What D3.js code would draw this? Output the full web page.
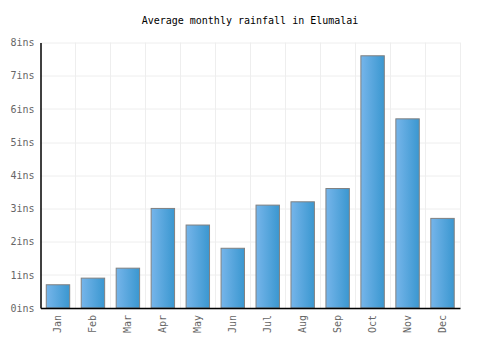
<!DOCTYPE html>
<html>
<head>
<meta charset="utf-8">
<title>Average monthly rainfall in Elumalai</title>
<script src="https://d3js.org/d3.v7.min.js"></script>
<style>
body { margin: 0; background: #fff; }
text { font-family: "DejaVu Sans Mono", monospace; }
</style>
</head>
<body>
<script>
var months = ["Jan","Feb","Mar","Apr","May","Jun","Jul","Aug","Sep","Oct","Nov","Dec"];
var rainfall = [0.7, 0.9, 1.2, 3.0, 2.5, 1.8, 3.1, 3.2, 3.6, 7.6, 5.7, 2.7];
var yTicks = [0, 1, 2, 3, 4, 5, 6, 7, 8];

var margin = {top: 42.5, right: 40, bottom: 42, left: 40.5};
var width = 500 - margin.left - margin.right,
    height = 350 - margin.top - margin.bottom;

var base = d3.select("body").append("svg")
  .attr("width", 500)
  .attr("height", 350);

var defs = base.append("defs");
var grad = defs.append("linearGradient").attr("id", "barGrad")
  .attr("x1", "0%").attr("x2", "100%").attr("y1", "0%").attr("y2", "0%");
grad.append("stop").attr("offset", "0%").attr("stop-color", "#76b5ea");
grad.append("stop").attr("offset", "100%").attr("stop-color", "#3a97d0");

base.append("text")
  .attr("x", 250)
  .attr("y", 24)
  .attr("text-anchor", "middle")
  .attr("font-size", "10px")
  .attr("fill", "#000")
  .text("Average monthly rainfall in Elumalai");

var svg = base.append("g").attr("transform", "translate(" + margin.left + "," + margin.top + ")");

var xScale = d3.scaleBand().domain(months).range([0, width]).paddingInner(0.33).paddingOuter(0.165);
var xGrid = d3.scaleBand().domain(months).range([0, width]);
var yScale = d3.scaleLinear().domain([0, 8]).range([height, 0]);

// grid
svg.append("g").selectAll("line.h").data(yTicks).enter().append("line")
  .attr("x1", 0).attr("x2", width)
  .attr("y1", d => Math.round(yScale(d)) + 0.5).attr("y2", d => Math.round(yScale(d)) + 0.5)
  .attr("stroke", "#eeeeee").attr("stroke-width", 1);
svg.append("g").selectAll("line.v").data(months).enter().append("line")
  .attr("x1", d => Math.round(xGrid(d) + xGrid.bandwidth())).attr("x2", d => Math.round(xGrid(d) + xGrid.bandwidth()))
  .attr("y1", 0).attr("y2", height)
  .attr("stroke", "#eeeeee").attr("stroke-width", 1);

// bars
svg.append("g").selectAll("rect").data(rainfall).enter().append("rect")
  .attr("x", (d, i) => xScale(months[i]))
  .attr("y", d => yScale(d))
  .attr("width", xScale.bandwidth())
  .attr("height", d => height - yScale(d))
  .attr("fill", "url(#barGrad)")
  .attr("stroke", "#808080")
  .attr("stroke-width", 1);

// y axis
var yAxis = svg.append("g")
  .call(d3.axisLeft(yScale).tickValues(yTicks).tickSize(0).tickPadding(6).tickFormat(d => d + "ins"));
yAxis.select(".domain").attr("stroke", "#000").attr("stroke-width", 1.5);
yAxis.selectAll("text").attr("font-size", "10px").attr("fill", "#666").attr("font-family", "DejaVu Sans Mono, monospace");

// x axis
var xAxis = svg.append("g")
  .attr("transform", "translate(0," + height + ")")
  .call(d3.axisBottom(xGrid).tickSize(0).tickPadding(0));
xAxis.select(".domain").attr("stroke", "#000").attr("stroke-width", 1.5);
xAxis.selectAll("text")
  .attr("font-size", "10px").attr("fill", "#666").attr("font-family", "DejaVu Sans Mono, monospace")
  .attr("text-anchor", "end")
  .attr("dy", "0.35em")
  .attr("transform", "translate(0,7) rotate(-90)")
  .attr("x", 0).attr("y", 0);
</script>
</body>
</html>
